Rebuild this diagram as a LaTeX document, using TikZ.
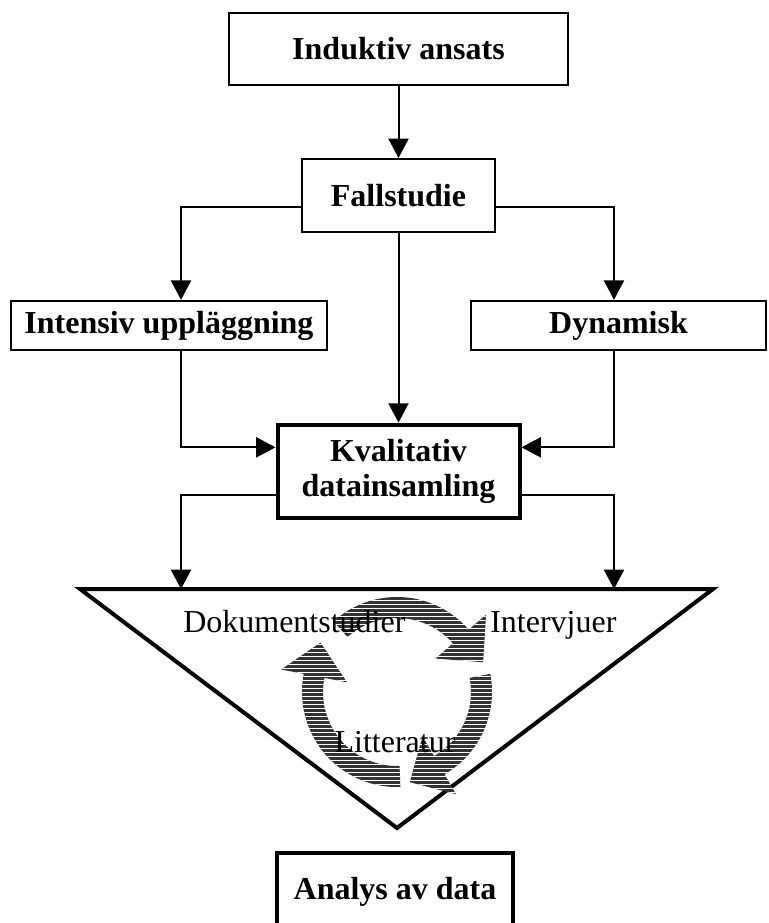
\documentclass[tikz,border=0pt]{standalone}
\usepackage{fontspec}
\setmainfont{Liberation Serif}
\usetikzlibrary{positioning,arrows.meta,calc}
\colorlet{ringgray}{black!80}

\begin{document}
\begin{tikzpicture}[x=0.75pt,y=-0.75pt,every node/.style={font=\fontsize{24}{26}\selectfont},
  >={Triangle[length=14.5pt,width=15pt]}]
\tikzstyle{box}=[draw,line width=1.5pt,inner sep=0pt,align=center,font=\fontsize{24}{26}\selectfont\bfseries]
\tikzstyle{heavybox}=[box,line width=3pt]
\tikzstyle{link}=[->,line width=1.5pt]
\tikzstyle{label}=[inner sep=0pt]
\useasboundingbox (0,0) rectangle (768,923);
\node[box,minimum width=254pt,minimum height=54pt] (induktiv) at (398.5,49) {Induktiv ansats};
\node[box,minimum width=145pt,minimum height=55pt,below=54pt of induktiv] (fall) {Fallstudie};
\node[box,minimum width=237pt,minimum height=37pt] (intensiv) at (169,325.5) {Intensiv uppläggning};
\node[box,minimum width=221pt,minimum height=37pt] (dynamisk) at (618.5,325.5) {Dynamisk};
\node[heavybox,minimum width=181.5pt,minimum height=70pt,below=142pt of fall] (kval) {Kvalitativ\\datainsamling};
\node[heavybox,minimum width=177pt,minimum height=58.5pt] (analys) at (395,892) {Analys av data};
% triangle
\coordinate (triL) at (80,589);
\coordinate (triR) at (713,589);
\coordinate (triB) at (397,828);
\coordinate (inL) at (181,589);
\coordinate (inR) at (614,589);
\draw[line width=3pt] (triL) -- (triR) -- (triB) -- cycle;
% cycle arrows, striped
\coordinate (C) at (397,692);
\foreach \tail/\head in {228/319,349/420,88/191}{
  \begin{scope}
  \clip ($(C)+(\tail:95)$) arc[start angle=\tail,end angle=\head,radius=95]
    -- ($(C)+(\head:118)$) -- ($(C)+(\head:84.5)+(\head+90:34)$)
    -- ($(C)+(\head:51)$) -- ($(C)+(\head:74)$)
    arc[start angle=\head,end angle=\tail,radius=74] -- cycle;
  \fill[ringgray] (270,570) rectangle (530,820);
  \foreach \k in {0,...,62}
    \draw[white,line width=0.45pt] (270,572+4*\k) -- (530,572+4*\k);
  \end{scope}
}
\node[label,anchor=base west] (dok) at (183,632) {Dokumentstudier};
\node[label,anchor=base west] (intv) at (490,632) {Intervjuer};
\node[label,anchor=base] (litt) at (395,752) {Litteratur};
% connectors
\draw[link] (induktiv) -- (fall);
\draw[link] ([yshift=-8.6pt]fall.west) -| ([xshift=9pt]intensiv.north);
\draw[link] ([yshift=-8.6pt]fall.east) -| ([xshift=-3.4pt]dynamisk.north);
\draw[link] (fall.south) -- (fall.south |- kval.north);
\draw[link] ([xshift=9pt]intensiv.south) |- ([yshift=18pt]kval.west);
\draw[link] ([xshift=-3.4pt]dynamisk.south) |- ([yshift=18pt]kval.east);
\draw[link] ([yshift=-18pt]kval.west) -| (inL);
\draw[link] ([yshift=-18pt]kval.east) -| (inR);
\end{tikzpicture}
\end{document}
